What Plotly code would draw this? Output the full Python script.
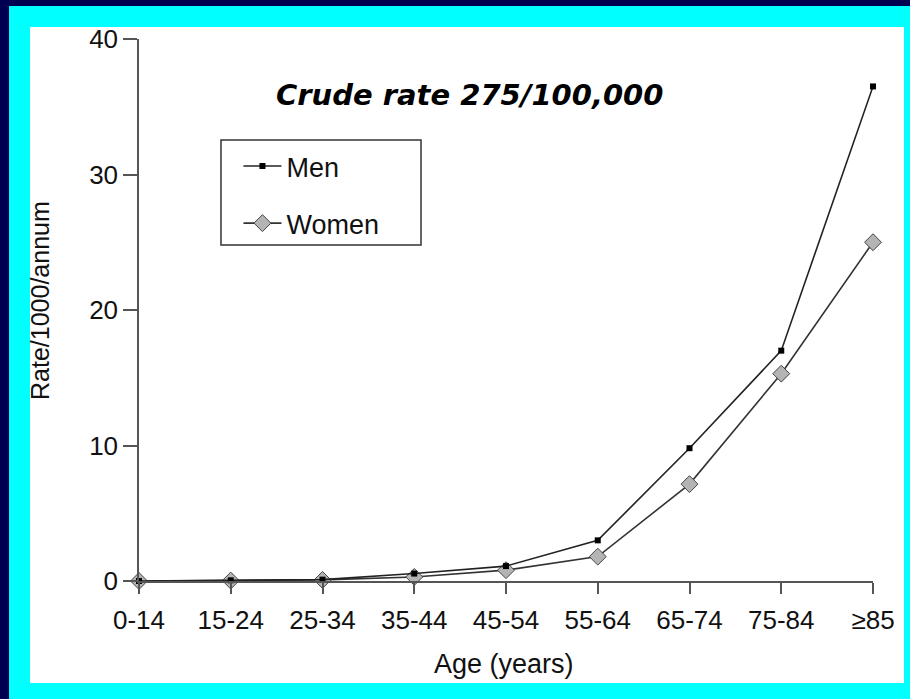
import plotly.graph_objects as go

categories = ["0-14", "15-24", "25-34", "35-44", "45-54", "55-64", "65-74", "75-84", "≥85"]
men = [0.0, 0.05, 0.1, 0.55, 1.1, 3.0, 9.8, 17.0, 36.5]
women = [0.0, 0.03, 0.08, 0.3, 0.8, 1.8, 7.15, 15.3, 25.0]
y_ticks = [0, 10, 20, 30, 40]

NAVY = "#000050"
CYAN = "#00ffff"
AXIS = "#555555"
FONT = "Liberation Sans, Arial, sans-serif"

fig = go.Figure()
fig.add_trace(go.Scatter(
    x=categories, y=women, name="Women", mode="lines+markers",
    line=dict(color="#333333", width=1.6),
    marker=dict(symbol="diamond", size=13, color="#b4b4b4",
                line=dict(color="#444444", width=1)),
    cliponaxis=False, legendgroup="w", legendrank=2,
))
fig.add_trace(go.Scatter(
    x=categories, y=men, name="Men", mode="lines+markers",
    line=dict(color="#222222", width=1.6),
    marker=dict(symbol="square", size=6, color="#000000"),
    cliponaxis=False, legendgroup="m", legendrank=1,
))

fig.update_layout(
    width=910, height=699,
    margin=dict(l=139, r=37, t=39, b=118, autoexpand=False),
    paper_bgcolor=NAVY,
    plot_bgcolor="rgba(0,0,0,0)",
    font=dict(family=FONT, color="#111111"),
    showlegend=True,
    legend=dict(
        x=0.1137, y=0.8100, xanchor="left", yanchor="top",
        bgcolor="rgba(0,0,0,0)", borderwidth=0,
        font=dict(family=FONT, size=27, color="#111111"),
        tracegroupgap=19, itemwidth=38, indentation=16,
    ),
    xaxis=dict(
        type="category", range=[0, 8], showgrid=False, zeroline=False,
        showline=True, linecolor=AXIS, linewidth=1.5,
        ticks="outside", ticklen=11, tickcolor=AXIS, tickwidth=1.5,
        tickfont=dict(family=FONT, size=26, color="#111111"),
        ticklabelstandoff=4,
    ),
    yaxis=dict(
        range=[0, 40], tickvals=y_ticks, showgrid=False, zeroline=False,
        showline=True, linecolor=AXIS, linewidth=1.5,
        ticks="outside", ticklen=14, tickcolor=AXIS, tickwidth=1.5,
        tickfont=dict(family=FONT, size=26, color="#111111"),
        ticklabelstandoff=0,
    ),
    shapes=[
        dict(type="rect", xref="paper", yref="paper", layer="below",
             x0=-0.1771, x1=1.07, y0=-0.25, y1=1.0609,
             fillcolor=CYAN, line=dict(width=0)),
        dict(type="rect", xref="paper", yref="paper", layer="below",
             x0=-0.1485, x1=1.0422, y0=-0.1882, y1=1.0221,
             fillcolor="white", line=dict(width=0)),
        # legend frame
        dict(type="rect", xref="paper", yref="paper", layer="below",
             x0=0.1117, x1=0.3842, y0=0.6199, y1=0.8137,
             fillcolor="white", line=dict(color="#333333", width=1.5)),
    ],
    annotations=[
        dict(text="<b><i>Crude rate 275/100,000</i></b>", xref="paper", yref="paper",
             x=0.4496, y=0.896, xanchor="center", yanchor="middle", showarrow=False,
             font=dict(family="DejaVu Sans, Verdana, sans-serif", size=29, color="#000000")),
        dict(text="Age (years)", xref="paper", yref="paper",
             x=0.497, y=-0.153, xanchor="center", yanchor="middle", showarrow=False,
             font=dict(family=FONT, size=27, color="#111111")),
        dict(text="Rate/1000/annum", xref="paper", yref="paper", textangle=-90,
             x=-0.1349, y=0.5185, xanchor="center", yanchor="middle", showarrow=False,
             font=dict(family=FONT, size=25, color="#111111")),
    ],
)

fig.write_html(
    "out.html",
    config={"displayModeBar": False},
    post_script="document.body.style.margin='0';document.body.style.padding='0';document.body.style.overflow='hidden';",
)
